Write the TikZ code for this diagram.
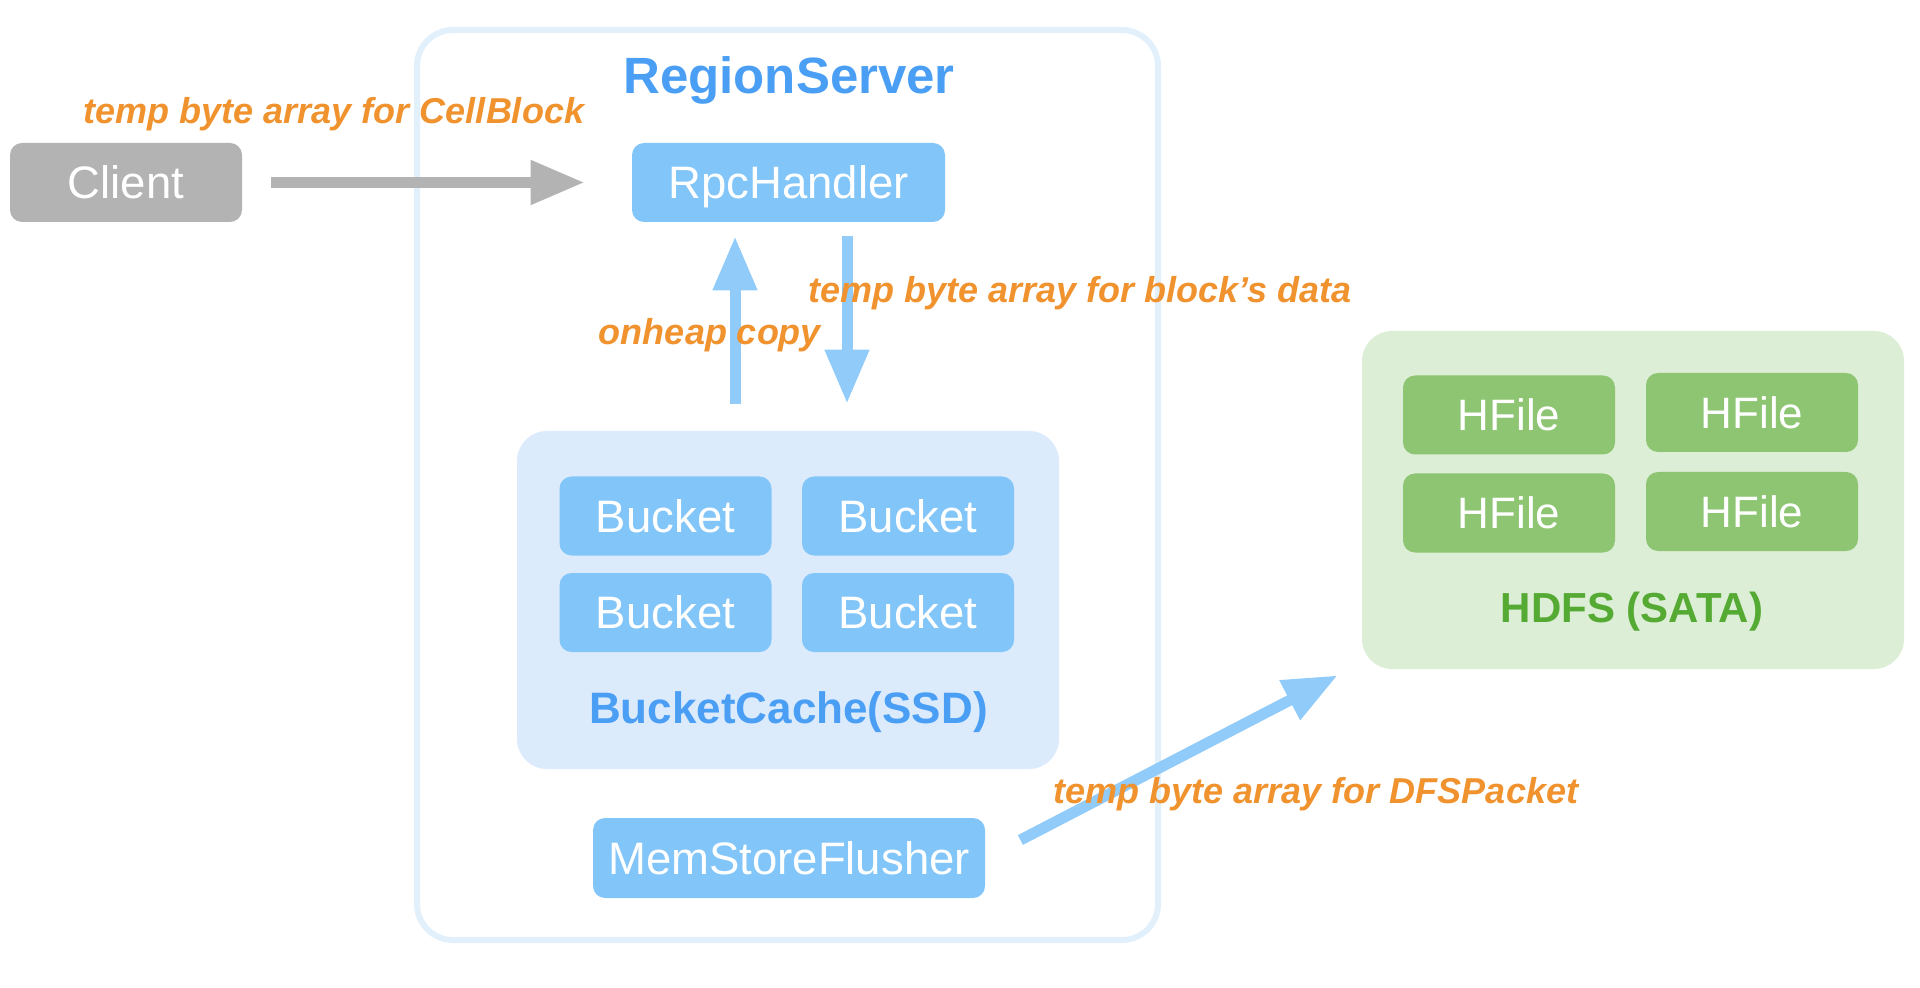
\documentclass[tikz,border=0pt]{standalone}
\usepackage{fontspec}
\setmainfont{Liberation Sans}
\usetikzlibrary{arrows.meta}
\definecolor{boxblue}{HTML}{82C5F8}
\definecolor{titleblue}{HTML}{4A9FF5}
\definecolor{cachefill}{HTML}{DCEBFC}
\definecolor{rsborder}{HTML}{E2F0FC}
\definecolor{arrowblue}{HTML}{90CBF9}
\definecolor{greybox}{HTML}{B3B3B3}
\definecolor{greenbox}{HTML}{8DC572}
\definecolor{hdfsfill}{HTML}{DDEED6}
\definecolor{greentext}{HTML}{55AA33}
\definecolor{labelorange}{HTML}{F0922E}
\begin{document}
\begin{tikzpicture}[x=0.5pt,y=-0.5pt,
  box/.style={rounded corners=6pt, fill=boxblue, text=white, inner sep=0pt,
    font=\fontsize{22.75}{26}\selectfont, minimum height=39.5pt,
    text height=16.3pt, text depth=0pt},
  greyboxstyle/.style={box, fill=greybox},
  hfile/.style={box, fill=greenbox, font=\fontsize{22}{26}\selectfont,
    text height=15.75pt, minimum width=106pt},
  bucket/.style={box, minimum width=106pt},
  lbl/.style={text=labelorange, font=\bfseries\itshape\fontsize{18}{21}\selectfont, inner sep=0pt},
  fatarrow/.style={line width=5.5pt, -{Triangle[length=27pt,width=21pt]}},
  container/.style={rounded corners=15pt, inner sep=0pt}
]
\useasboundingbox (0,0) rectangle (1920,988);

% RegionServer outer frame
\node[container, draw=rsborder, line width=3pt, rounded corners=18pt,
  minimum width=370.5pt, minimum height=455pt] (rs) at (787.5,485) {};
\node[text=titleblue, font=\bfseries\fontsize{25.5}{30}\selectfont, inner sep=0pt] (rstitle) at (789,80) {RegionServer};

% BucketCache container
\node[container, fill=cachefill, minimum width=271pt, minimum height=169pt] (bc) at (788,600) {};
\node[text=titleblue, font=\bfseries\fontsize{22}{26}\selectfont, inner sep=0pt] (bctitle) at (788.5,712) {BucketCache(SSD)};

% HDFS container
\node[container, fill=hdfsfill, minimum width=271pt, minimum height=169pt] (hdfs) at (1633,500) {};
\node[text=greentext, font=\bfseries\fontsize{21}{25}\selectfont, inner sep=0pt] (hdfstitle) at (1632,612) {HDFS (SATA)};

% Nodes
\node[greyboxstyle, minimum width=116pt] (client) at (126,182.5) {Client};
\node[box, minimum width=156.5pt] (rpc) at (788.5,182.5) {RpcHandler};

\node[bucket] (b1) at (665.5,516) {Bucket};
\node[bucket] (b2) at (908,516) {Bucket};
\node[bucket] (b3) at (665.5,612.5) {Bucket};
\node[bucket] (b4) at (908,612.5) {Bucket};

\node[box, minimum width=196pt, minimum height=40pt] (msf) at (789,858) {MemStoreFlusher};

\node[hfile] (h1) at (1509,415) {HFile};
\node[hfile] (h2) at (1752,412.5) {HFile};
\node[hfile] (h3) at (1509,513) {HFile};
\node[hfile] (h4) at (1752,511.5) {HFile};

% Arrows
\draw[fatarrow, draw=greybox, color=greybox, shorten <=14.5pt, shorten >=23.5pt]
  (client.east) -- (rpc.west);
\draw[fatarrow, draw=arrowblue, color=arrowblue, shorten <=13.5pt, shorten >=7pt]
  ([xshift=-26.5pt]bc.north) -- ([xshift=-26.75pt]rpc.south);
\draw[fatarrow, draw=arrowblue, color=arrowblue, shorten <=7pt, shorten >=13.5pt]
  ([xshift=29.25pt]rpc.south) -- ([xshift=29.5pt]bc.north);
\draw[fatarrow, draw=arrowblue, color=arrowblue]
  ([shift={(35,-18)}]msf.east) -- ([shift={(-24,6)}]hdfs.south west);

% Labels
\node[lbl] (l1) at (334,114) {temp byte array for CellBlock};
\node[lbl] (l2) at (710,335) {onheap copy};
\node[lbl] (l3) at (1080,293) {temp byte array for block’s data};
\node[lbl] (l4) at (1316,794) {temp byte array for DFSPacket};
\end{tikzpicture}
\end{document}
